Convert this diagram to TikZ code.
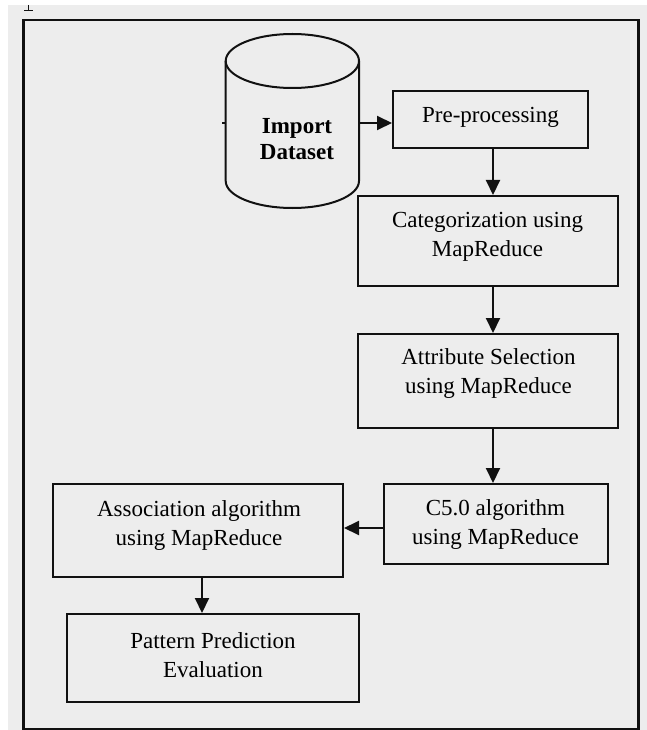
\documentclass[tikz,border=0pt]{standalone}
\usepackage{fontspec}
\setmainfont{Liberation Serif}
\usetikzlibrary{arrows.meta,calc}
\definecolor{panel}{HTML}{EDEDED}
\definecolor{ink}{HTML}{111111}
\begin{document}
\begin{tikzpicture}[x=1bp,y=-1bp,
  box/.style 2 args={draw=ink, line width=2bp, inner sep=0pt,
    minimum width=#1, minimum height=#2},
  txt/.style={align=center, inner sep=0pt, text=black,
    font=\fontsize{23bp}{29bp}\selectfont},
  flow/.style={draw=ink, line width=2bp,
    -{Triangle[length=15bp,width=14bp]}}]
% canvas and outer frame
\useasboundingbox (0,0) rectangle (647,730);
\fill[white] (0,0) rectangle (647,730);
\fill[panel] (8,5) rectangle (647,730);
\draw[ink, line width=0.8bp] (24,10) -- (33,10) (28.5,5) -- (28.5,10);
\draw[ink, line width=2.2bp] (23.5,20) rectangle (638.5,729);

% database cylinder
\draw[ink, line width=2bp, fill=panel]
  (225.7,61) -- (225.7,181) arc[start angle=180, end angle=0, x radius=66.65, y radius=27]
  -- (359,61);
\draw[ink, line width=2bp] (292.35,61) ellipse[x radius=66.65, y radius=27];
\draw[ink, line width=1.4bp] (222,123) -- (225.7,123);
\coordinate (dbR) at (359,123);
\node[txt, font=\fontsize{23bp}{26bp}\selectfont\bfseries] (db) at (297,139) {Import\\Dataset};

% process boxes
\node[box={195bp}{57bp}] (pre) at (490.5,119.5) {};
\node[box={260bp}{90bp}] (cat) at (488,241) {};
\node[box={260bp}{94bp}] (attr) at (488,381) {};
\node[box={224bp}{80bp}] (cfive) at (496,524) {};
\node[box={290bp}{93bp}] (assoc) at (198,530.5) {};
\node[box={292bp}{88bp}] (pat) at (213,658) {};

% box captions
\node[txt] (preT) at (490.5,117) {Pre-processing};
\node[txt] (catT) at (487.5,237) {Categorization using\\MapReduce};
\node[txt] (attrT) at (488.5,373) {Attribute Selection\\using MapReduce};
\node[txt] (cfiveT) at (495.5,524) {C5.0 algorithm\\using MapReduce};
\node[txt] (assocT) at (199,525) {Association algorithm\\using MapReduce};
\node[txt] (patT) at (213,655) {Pattern Prediction\\Evaluation};

% connector guides
\coordinate (spine) at (493,0);
\coordinate (spineB) at (202,0);
\coordinate (rowC) at (0,528);

% connectors
\draw[flow] (dbR) -- (dbR -| pre.west);
\draw[flow] (pre.south -| spine) -- (cat.north -| spine);
\draw[flow] (cat.south -| spine) -- (attr.north -| spine);
\draw[flow] (attr.south -| spine) -- (cfive.north -| spine);
\draw[flow] (cfive.west |- rowC) -- (assoc.east |- rowC);
\draw[flow] (assoc.south -| spineB) -- (pat.north -| spineB);
\end{tikzpicture}
\end{document}
